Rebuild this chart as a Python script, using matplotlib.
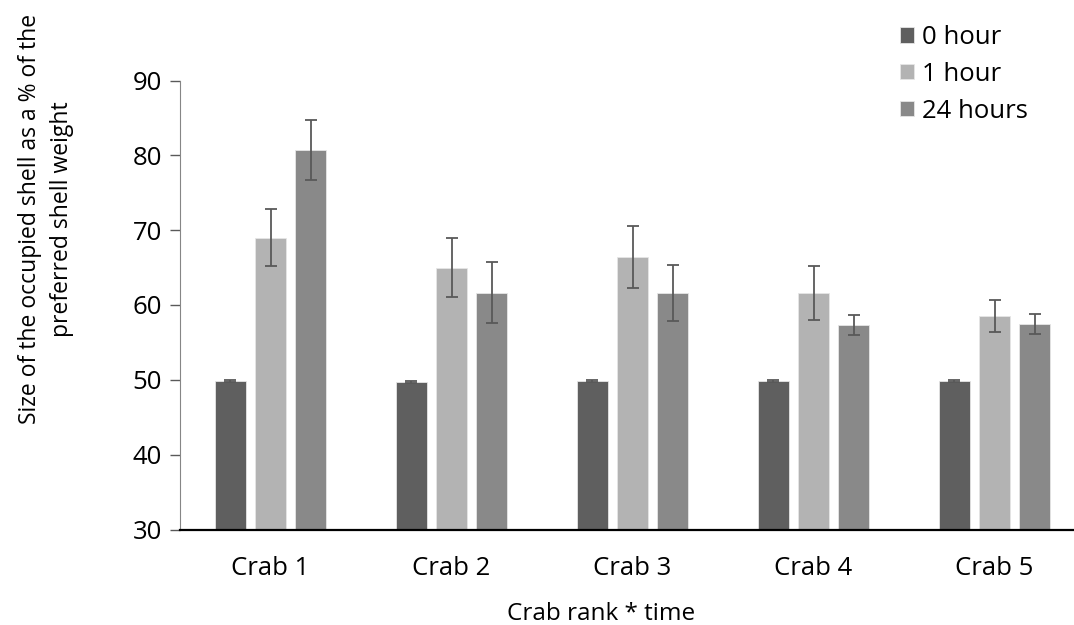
import numpy as np
import matplotlib
matplotlib.use('Agg')
import matplotlib.pyplot as plt

plt.rcParams['font.family'] = ['Open Sans', 'DejaVu Sans']

crabs = ['Crab 1', 'Crab 2', 'Crab 3', 'Crab 4', 'Crab 5']
series = ['0 hour', '1 hour', '24 hours']
hour0 = [49.85, 49.75, 49.85, 49.8, 49.8]
hour0_err = [0.15, 0.15, 0.15, 0.15, 0.15]
hour1 = [69.0, 65.0, 66.4, 61.6, 58.5]
hour1_err = [3.85, 3.9, 4.15, 3.6, 2.15]
hour24 = [80.7, 61.65, 61.6, 57.35, 57.45]
hour24_err = [4.05, 4.05, 3.8, 1.3, 1.3]
colors = ['#5f5f5f', '#b3b3b3', '#898989']

fig = plt.figure(figsize=(10.74, 6.25), dpi=100)
ax = fig.add_axes([180/1074, 1-529.5/625, 905/1074, 449/625])

x = np.arange(len(crabs))
w = 0.168
off = 0.222
for i, (vals, errs) in enumerate([(hour0, hour0_err), (hour1, hour1_err), (hour24, hour24_err)]):
    ax.bar(x + (i-1)*off, vals, w, color=colors[i], label=series[i],
           edgecolor='#e6e6e6', linewidth=0.6, zorder=2)
    ax.errorbar(x + (i-1)*off, vals, yerr=errs, fmt='none', ecolor='#595959',
                elinewidth=1.3, capsize=4.5, capthick=1.3, zorder=3)

ax.set_xlim(-0.5, 4.5)
ax.set_ylim(30, 90)
ax.set_yticks(range(30, 91, 10))
ax.set_xticks(x)
ax.set_xticklabels(crabs)
ax.tick_params(axis='x', length=0, pad=19, labelsize=18.5)
ax.tick_params(axis='y', length=7, width=1, color='#595959', pad=6, labelsize=18.5)
for s in ['top', 'right']:
    ax.spines[s].set_visible(False)
ax.spines['left'].set_color('#868686')
ax.spines['bottom'].set_color('black')
ax.spines['bottom'].set_linewidth(1.6)

fig.text(601/1074, 1-614/625, 'Crab rank * time', ha='center', va='center', fontsize=17.5)
fig.text(46/1074, 1-219/625, 'Size of the occupied shell as a % of the\npreferred shell weight',
         rotation=90, ha='center', va='center', multialignment='center', fontsize=16.5,
         linespacing=1.4)

ax.legend(loc='upper left', bbox_to_anchor=(900/1074, 1-25/625), bbox_transform=fig.transFigure,
          frameon=False, fontsize=18.5, handlelength=0.55, handleheight=0.55,
          handletextpad=0.3, labelspacing=0.46, borderpad=0, borderaxespad=0)

fig.savefig('out.png', dpi=100)
